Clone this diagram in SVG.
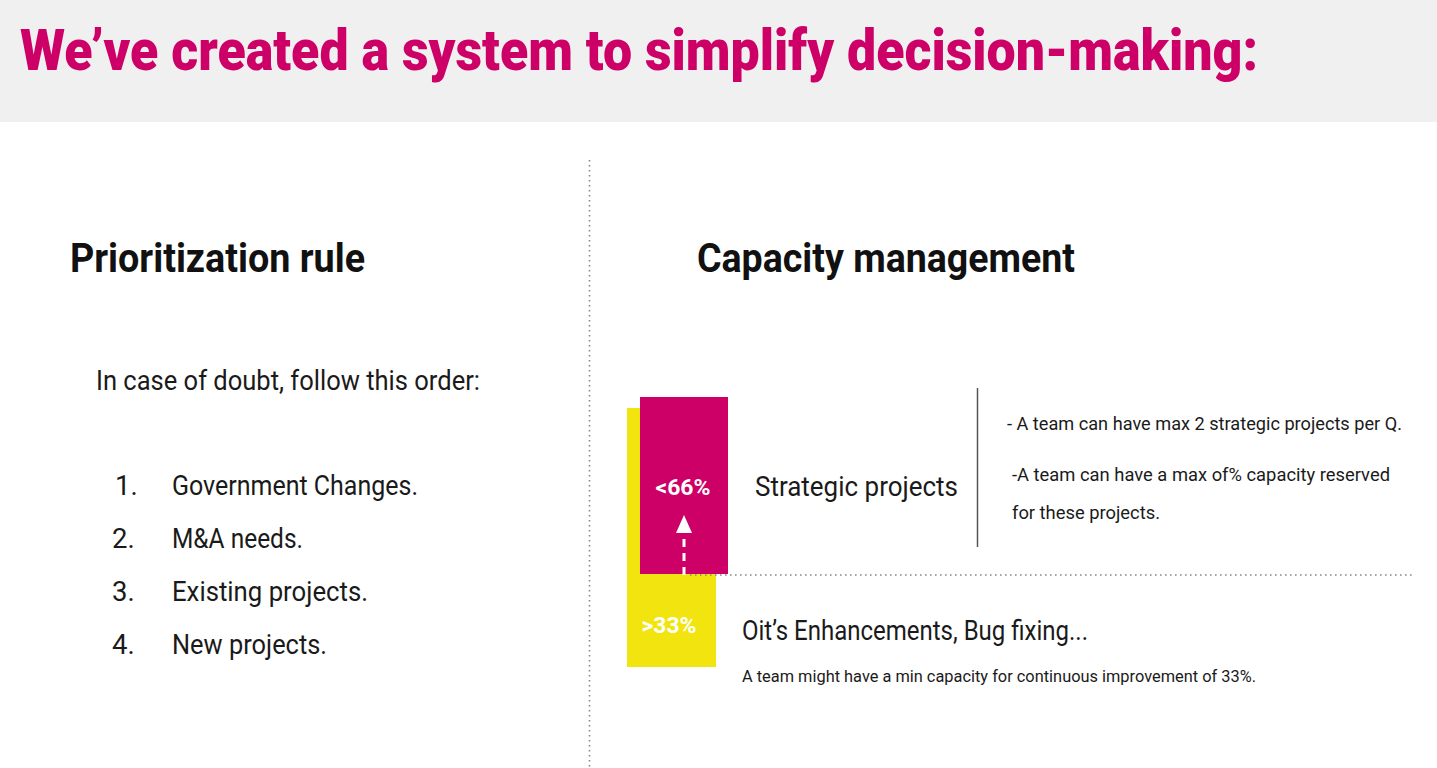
<svg xmlns="http://www.w3.org/2000/svg" width="1437" height="768" viewBox="0 0 1437 768">
  <style>
    text { font-family: Roboto, "Liberation Sans", sans-serif; }
    .title { font-size: 58px; font-weight: 900; fill: #cc0066; }
    .head { font-size: 41px; font-weight: 700; fill: #111; }
    .body { font-size: 27.5px; fill: #1a1a1a; }
    .big { font-size: 28px; fill: #1a1a1a; }
    .small { font-size: 18.5px; fill: #1a1a1a; }
    .tiny { font-size: 17px; fill: #1a1a1a; }
    .pct { font-size: 22px; font-weight: 700; fill: #ffffff; }
    .dots { stroke: #888; stroke-width: 1.6; stroke-dasharray: 1.6 3.4; fill: none; }
  </style>

  <rect x="0" y="0" width="1437" height="768" fill="#ffffff"/>

  <!-- header band -->
  <g id="header">
    <rect x="0" y="0" width="1437" height="122" fill="#f0f0f0"/>
    <text class="title" x="20" y="70" textLength="1238" lengthAdjust="spacingAndGlyphs">We’ve created a system to simplify decision-making:</text>
  </g>

  <!-- column divider -->
  <g id="divider">
    <line class="dots" x1="589.5" y1="160" x2="589.5" y2="768"/>
  </g>

  <!-- left column -->
  <g id="prioritization">
    <text class="head" x="70" y="272" textLength="295" lengthAdjust="spacingAndGlyphs">Prioritization rule</text>
    <text class="body" x="96" y="390" textLength="384" lengthAdjust="spacingAndGlyphs">In case of doubt, follow this order:</text>
    <text class="body" x="115" y="495">1.</text>
    <text class="body" x="172" y="495" textLength="246" lengthAdjust="spacingAndGlyphs">Government Changes.</text>
    <text class="body" x="112" y="548">2.</text>
    <text class="body" x="172" y="548" textLength="131" lengthAdjust="spacingAndGlyphs">M&amp;A needs.</text>
    <text class="body" x="112" y="601">3.</text>
    <text class="body" x="172" y="601" textLength="196" lengthAdjust="spacingAndGlyphs">Existing projects.</text>
    <text class="body" x="112" y="654">4.</text>
    <text class="body" x="172" y="654" textLength="155" lengthAdjust="spacingAndGlyphs">New projects.</text>
  </g>

  <!-- right column -->
  <g id="capacity-title">
    <text class="head" x="697" y="272" textLength="378" lengthAdjust="spacingAndGlyphs">Capacity management</text>
  </g>

  <g id="bars">
    <rect x="627" y="408" width="89" height="259" fill="#f2e50f"/>
    <rect x="640" y="397" width="88" height="177" fill="#cc0066"/>
    <text class="pct" x="683" y="495" text-anchor="middle" textLength="55" lengthAdjust="spacingAndGlyphs">&lt;66%</text>
    <text class="pct" x="669" y="633" text-anchor="middle" textLength="55" lengthAdjust="spacingAndGlyphs">&gt;33%</text>
  </g>

  <g id="connectors">
    <line x1="684" y1="575" x2="684" y2="533" stroke="#ffffff" stroke-width="3" stroke-dasharray="8 6"/>
    <path d="M676,533 L684,515 L692,533 Z" fill="#ffffff"/>
    <line class="dots" x1="690" y1="575" x2="1412" y2="575"/>
    <line x1="977.5" y1="388" x2="977.5" y2="547" stroke="#555" stroke-width="1.5"/>
  </g>

  <g id="strategic">
    <text class="big" x="755" y="496" textLength="203" lengthAdjust="spacingAndGlyphs">Strategic projects</text>
    <text class="small" x="1007" y="430" textLength="395" lengthAdjust="spacingAndGlyphs">- A team can have max 2 strategic projects per Q.</text>
    <text class="small" x="1012" y="481" textLength="378" lengthAdjust="spacingAndGlyphs">-A team can have a max of% capacity reserved</text>
    <text class="small" x="1012" y="519" textLength="148" lengthAdjust="spacingAndGlyphs">for these projects.</text>
  </g>

  <g id="enhancements">
    <text class="big" x="742" y="640" textLength="346" lengthAdjust="spacingAndGlyphs">Oit’s Enhancements, Bug fixing...</text>
    <text class="tiny" x="742" y="682" textLength="514" lengthAdjust="spacingAndGlyphs">A team might have a min capacity for continuous improvement of 33%.</text>
  </g>
</svg>
